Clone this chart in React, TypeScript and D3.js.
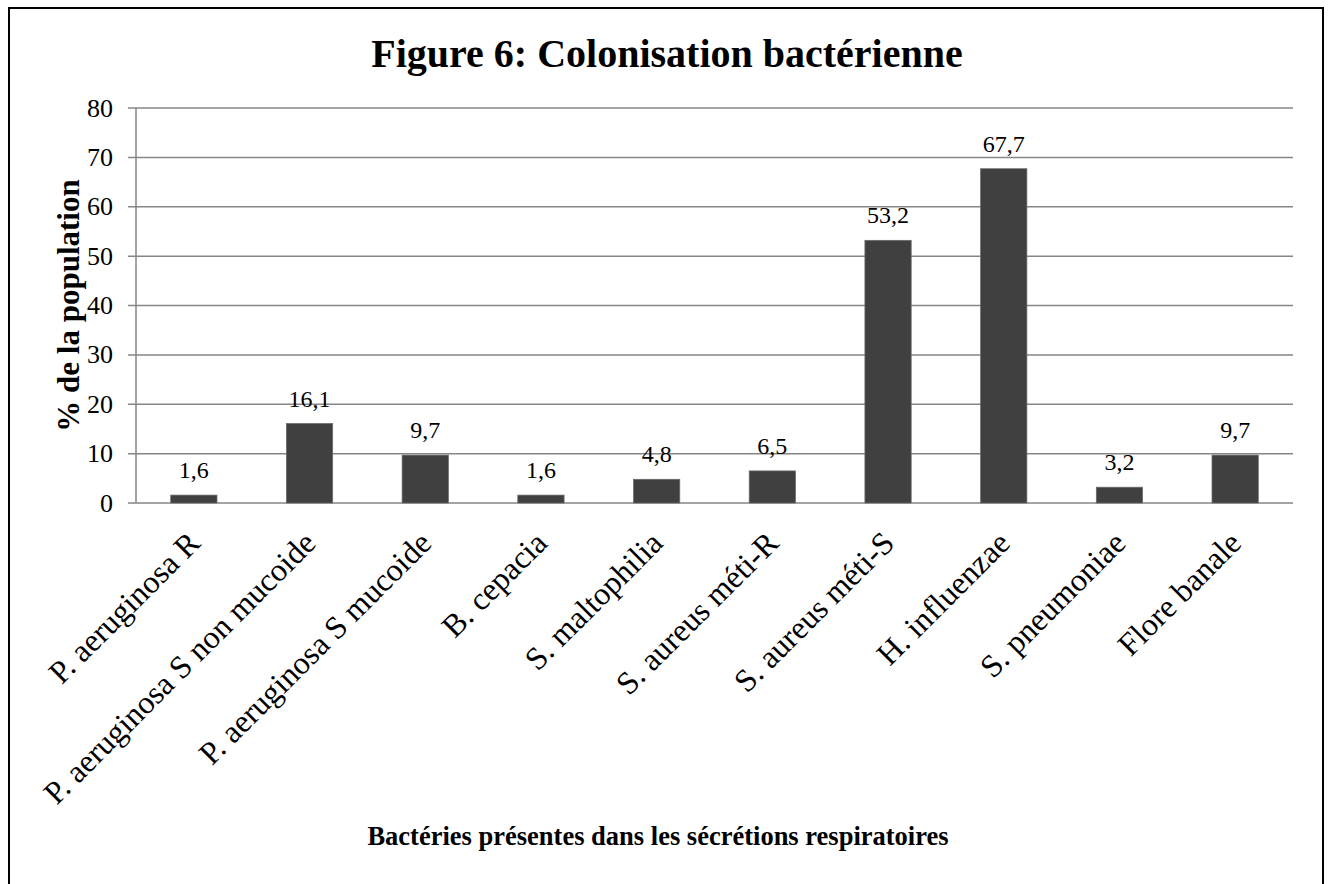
import * as d3 from "d3";

const CATEGORIES = [
  "P. aeruginosa R",
  "P. aeruginosa S non mucoide",
  "P. aeruginosa S mucoide",
  "B. cepacia",
  "S. maltophilia",
  "S. aureus méti-R",
  "S. aureus méti-S",
  "H. influenzae",
  "S. pneumoniae",
  "Flore banale",
];
const VALUES = [1.6, 16.1, 9.7, 1.6, 4.8, 6.5, 53.2, 67.7, 3.2, 9.7];
const Y_TICKS = [0, 10, 20, 30, 40, 50, 60, 70, 80];

const WIDTH = 1332;
const HEIGHT = 884;
const PLOT = { left: 136, right: 1293, top: 108, bottom: 503 };
const FONT = "'Liberation Serif', 'Times New Roman', serif";

const fmt = (v: number) => v.toFixed(1).replace(".", ",");

export default function App() {
  const x = d3
    .scaleBand()
    .domain(CATEGORIES)
    .range([PLOT.left, PLOT.right])
    .paddingInner(0)
    .paddingOuter(0);
  const y = d3.scaleLinear().domain([0, 80]).range([PLOT.bottom, PLOT.top]);
  const barW = x.bandwidth() * 0.4;

  return (
    <svg
      width={WIDTH}
      height={HEIGHT}
      style={{ position: "absolute", left: 0, top: 0, background: "#fff" }}
      fontFamily={FONT}
    >
      <rect x={9} y={8} width={1314} height={900} fill="#fff" stroke="#000" strokeWidth={2} />

      <text x={667} y={67} textAnchor="middle" fontSize={40} fontWeight="bold">
        Figure 6: Colonisation bactérienne
      </text>

      {/* gridlines + y ticks */}
      {Y_TICKS.map((t) => (
        <g key={t}>
          <line
            x1={PLOT.left - 8}
            x2={PLOT.right}
            y1={y(t)}
            y2={y(t)}
            stroke="#868686"
            strokeWidth={1.5}
          />
          <text
            x={113}
            y={y(t)}
            textAnchor="end"
            dominantBaseline="central"
            fontSize={26}
          >
            {t}
          </text>
        </g>
      ))}
      <line
        x1={PLOT.left}
        x2={PLOT.left}
        y1={PLOT.top}
        y2={PLOT.bottom}
        stroke="#868686"
        strokeWidth={1.5}
      />

      {/* bars */}
      {CATEGORIES.map((c, i) => {
        const cx = (x(c) ?? 0) + x.bandwidth() / 2;
        const top = y(VALUES[i]);
        return (
          <g key={c}>
            <rect
              x={cx - barW / 2}
              y={top}
              width={barW}
              height={PLOT.bottom - top}
              fill="#404040"
              stroke="#6a6a6a"
              strokeWidth={0.75}
            />
            <text x={cx} y={top - 17} textAnchor="middle" fontSize={24}>
              {fmt(VALUES[i])}
            </text>
            <text
              transform={`translate(${cx + 8},${PLOT.bottom + 42}) rotate(-45)`}
              textAnchor="end"
              fontSize={32}
            >
              {c}
            </text>
          </g>
        );
      })}

      <text
        transform={`translate(79,${(PLOT.top + PLOT.bottom) / 2}) rotate(-90)`}
        textAnchor="middle"
        fontSize={31}
        fontWeight="bold"
      >
        % de la population
      </text>

      <text x={658} y={845} textAnchor="middle" fontSize={26.5} fontWeight="bold">
        Bactéries présentes dans les sécrétions respiratoires
      </text>
    </svg>
  );
}
